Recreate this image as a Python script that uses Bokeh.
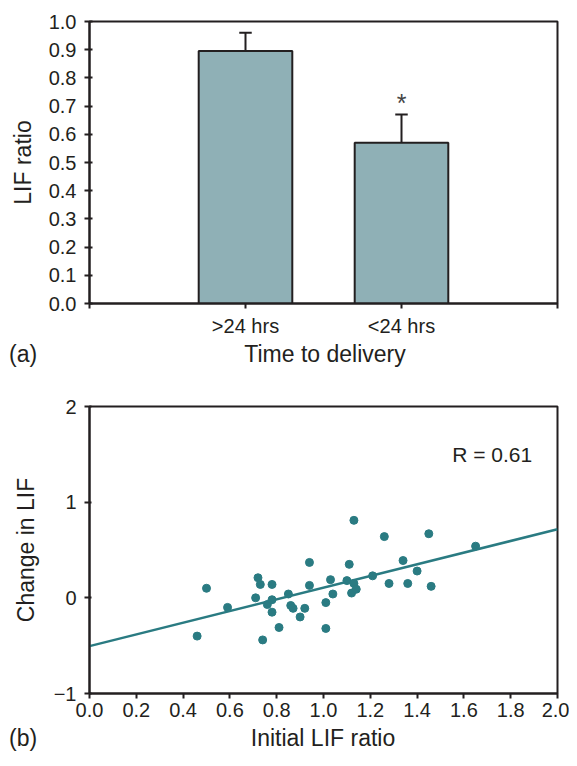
from bokeh.plotting import figure
from bokeh.layouts import column
from bokeh.models import FixedTicker, Label, Range1d, NumeralTickFormatter, Div
from bokeh.embed import file_html
from bokeh.resources import INLINE

# ---- Panel (a) data ----
categories = [">24 hrs", "<24 hrs"]
lif_ratio = [0.895, 0.57]
lif_err = [0.065, 0.10]
significance = ["", "*"]
y_ticks_a = [0.0, 0.1, 0.2, 0.3, 0.4, 0.5, 0.6, 0.7, 0.8, 0.9, 1.0]

# ---- Panel (b) data ----
initial_lif = [0.46, 0.50, 0.59, 0.71, 0.72, 0.73, 0.74, 0.76, 0.78, 0.78,
               0.78, 0.81, 0.85, 0.86, 0.87, 0.90, 0.92, 0.94, 0.94, 1.01,
               1.01, 1.03, 1.04, 1.10, 1.11, 1.12, 1.13, 1.13, 1.14, 1.21,
               1.26, 1.28, 1.34, 1.36, 1.40, 1.45, 1.46, 1.65]
change_lif = [-0.40, 0.10, -0.10, 0.00, 0.21, 0.14, -0.44, -0.07, 0.14, -0.02,
              -0.15, -0.31, 0.04, -0.08, -0.11, -0.20, -0.11, 0.13, 0.37, -0.05,
              -0.32, 0.19, 0.04, 0.18, 0.35, 0.05, 0.81, 0.15, 0.09, 0.23,
              0.64, 0.15, 0.39, 0.15, 0.28, 0.67, 0.12, 0.54]
fit_x = [0.0, 2.0]
fit_y = [-0.505, 0.717]
r_text = "R = 0.61"
x_ticks_b = [0.0, 0.2, 0.4, 0.6, 0.8, 1.0, 1.2, 1.4, 1.6, 1.8, 2.0]
y_ticks_b = [-1, 0, 1, 2]

FONT = "Liberation Sans"
INK = "#231f20"
TEAL = "#2a7b82"
BAR = "#8fb0b6"
W = 569


def style(p):
    p.outline_line_color = INK
    p.outline_line_width = 2
    p.xgrid.grid_line_color = None
    p.ygrid.grid_line_color = None
    for ax in (p.xaxis, p.yaxis):
        ax.axis_line_color = INK
        ax.axis_line_width = 2
        ax.major_tick_line_color = INK
        ax.major_tick_line_width = 2
        ax.minor_tick_line_color = None
        ax.major_label_text_font = FONT
        ax.major_label_text_font_size = "20px"
        ax.major_label_text_color = INK
        ax.axis_label_text_font = FONT
        ax.axis_label_text_font_size = "23px"
        ax.axis_label_text_font_style = "normal"
        ax.axis_label_text_color = INK


def caption_row(tag, title, center_x, height, top):
    html = (
        f'<div style="position:relative;width:{W}px;height:{height}px;'
        f"font-family:'{FONT}';font-size:23px;line-height:26px;color:{INK};\">"
        f'<span style="position:absolute;left:9px;top:{top}px;white-space:nowrap;">{tag}</span>'
        f'<span style="position:absolute;left:{center_x}px;top:{top}px;'
        f'transform:translateX(-50%);white-space:nowrap;">{title}</span></div>'
    )
    return Div(text=html, width=W, height=height, margin=0)


# ---------------- Panel (a) ----------------
xs = [i + 1 for i in range(len(categories))]
upper = [m + e for m, e in zip(lif_ratio, lif_err)]

p1 = figure(width=W, height=340, x_range=Range1d(0, len(categories) + 1),
            y_range=Range1d(0, 1.0), output_backend="svg", toolbar_location=None,
            min_border_left=89, min_border_right=8, min_border_top=21,
            min_border_bottom=37)
style(p1)

p1.segment(x0=xs, y0=lif_ratio, x1=xs, y1=upper, line_color=INK, line_width=2)
p1.segment(x0=[x - 0.04 for x in xs], y0=upper, x1=[x + 0.04 for x in xs], y1=upper,
           line_color=INK, line_width=2)
p1.vbar(x=xs, top=lif_ratio, width=0.6, fill_color=BAR, line_color=INK, line_width=2)
p1.text(x=xs, y=[u + 0.04 for u in upper], text=significance,
        text_font={"value": FONT}, text_font_size="25px", text_color="#444444",
        text_align="center", text_baseline="middle")

p1.xaxis.ticker = FixedTicker(ticks=[0] + xs + [len(categories) + 1])
overrides = {0: "", len(categories) + 1: ""}
for x, c in zip(xs, categories):
    overrides[x] = c
p1.xaxis.major_label_overrides = overrides
p1.xaxis.major_tick_in = 0
p1.xaxis.major_tick_out = 5
p1.xaxis.major_label_standoff = 6

p1.yaxis.ticker = FixedTicker(ticks=y_ticks_a)
p1.yaxis.formatter = NumeralTickFormatter(format="0.0")
p1.yaxis.major_tick_in = 3
p1.yaxis.major_tick_out = 5
p1.yaxis.major_label_standoff = 8
p1.yaxis.axis_label = "LIF ratio"
p1.yaxis.axis_label_standoff = 10

cap_a = caption_row("(a)", "Time to delivery", (89 + W - 8) // 2, 40, 1)

# ---------------- Panel (b) ----------------
p2 = figure(width=W, height=347, x_range=Range1d(0, 2), y_range=Range1d(-1, 2),
            output_backend="svg", toolbar_location=None,
            min_border_left=89, min_border_right=12, min_border_top=26,
            min_border_bottom=34)
style(p2)

p2.line(x=fit_x, y=fit_y, line_color=TEAL, line_width=2.5)
p2.scatter(x=initial_lif, y=change_lif, size=8, fill_color=TEAL, line_color=TEAL)
p2.add_layout(Label(x=1.55, y=1.5, text=r_text, text_font=FONT,
                    text_font_size="21px", text_color=INK,
                    text_align="left", text_baseline="middle"))

p2.xaxis.ticker = FixedTicker(ticks=x_ticks_b)
p2.xaxis.formatter = NumeralTickFormatter(format="0.0")
p2.xaxis.major_tick_in = 0
p2.xaxis.major_tick_out = 5
p2.xaxis.major_label_standoff = 4

p2.yaxis.ticker = FixedTicker(ticks=y_ticks_b)
p2.yaxis.major_label_overrides = {-1: "\u22121"}
p2.yaxis.major_tick_in = 2
p2.yaxis.major_tick_out = 5
p2.yaxis.major_label_standoff = 8
p2.yaxis.axis_label = "Change in LIF"
p2.yaxis.axis_label_standoff = 12

cap_b = caption_row("(b)", "Initial LIF ratio", (89 + W - 12) // 2, 23, -2)

layout = column(p1, cap_a, p2, cap_b, spacing=0)
open("out.html", "w").write(file_html(layout, INLINE))
